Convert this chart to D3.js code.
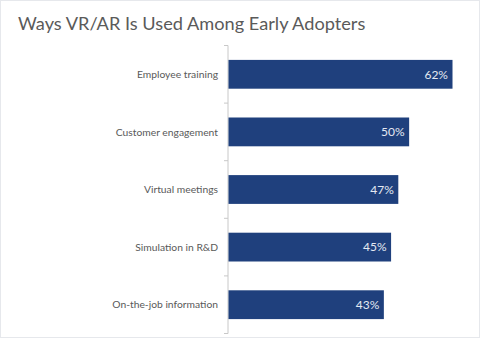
<!DOCTYPE html>
<html><head><meta charset="utf-8">
<script src="https://cdn.jsdelivr.net/npm/d3@7"></script>
<style>html,body{margin:0;padding:0;background:#fff;}</style>
</head><body><div id="chart"></div>
<script>
const categories = ["Employee training","Customer engagement","Virtual meetings","Simulation in R&D","On-the-job information"];
const values = [62,50,47,45,43];
const title = "Ways VR/AR Is Used Among Early Adopters";

const W=480,H=338;
const svg=d3.select("#chart").append("svg").attr("width",W).attr("height",H);
svg.append("rect").attr("x",0.5).attr("y",0.5).attr("width",W-1).attr("height",H-1).attr("fill","#fff").attr("stroke","#e6e8ec");
const font="Lato, 'Open Sans', sans-serif";
svg.append("text").attr("x",18).attr("y",30).text(title).attr("font-family",font).attr("font-size",18.2).attr("fill","#5a5a5a");

const x0=228;
const x=d3.scaleLinear().domain([0,62]).range([x0,452]);
const y=d3.scaleBand().domain(categories).range([45.5,333.5]).paddingInner(0.5).paddingOuter(0.25);

const g=svg.append("g");
g.append("line").attr("x1",x0).attr("x2",x0).attr("y1",45.5).attr("y2",333.5).attr("stroke","#c8c8c8");
const bounds=[45.5].concat(categories.map(c=>y(c)+y.bandwidth()+y.step()*y.paddingInner()/2));
bounds.forEach(b=>{
  g.append("line").attr("x1",x0-4).attr("x2",x0).attr("y1",b).attr("y2",b).attr("stroke","#c8c8c8");
});

svg.selectAll("rect.bar").data(categories).enter().append("rect").attr("class","bar")
  .attr("x",x0+0.5).attr("y",d=>y(d)).attr("width",(d,i)=>x(values[i])-x0).attr("height",y.bandwidth())
  .attr("fill","#1f407d");

svg.selectAll("text.cat").data(categories).enter().append("text").attr("class","cat")
  .attr("x",218).attr("y",d=>y(d)+y.bandwidth()/2).attr("dy","0.35em").attr("text-anchor","end")
  .attr("font-family",font).attr("font-size",10.3).attr("fill","#595959").text(d=>d);

svg.selectAll("text.val").data(categories).enter().append("text").attr("class","val")
  .attr("x",(d,i)=>x(values[i])-4).attr("y",d=>y(d)+y.bandwidth()/2).attr("dy","0.35em").attr("text-anchor","end")
  .attr("font-family",font).attr("font-size",12).attr("fill","#e4e9f2").text((d,i)=>values[i]+"%");
</script></body></html>
